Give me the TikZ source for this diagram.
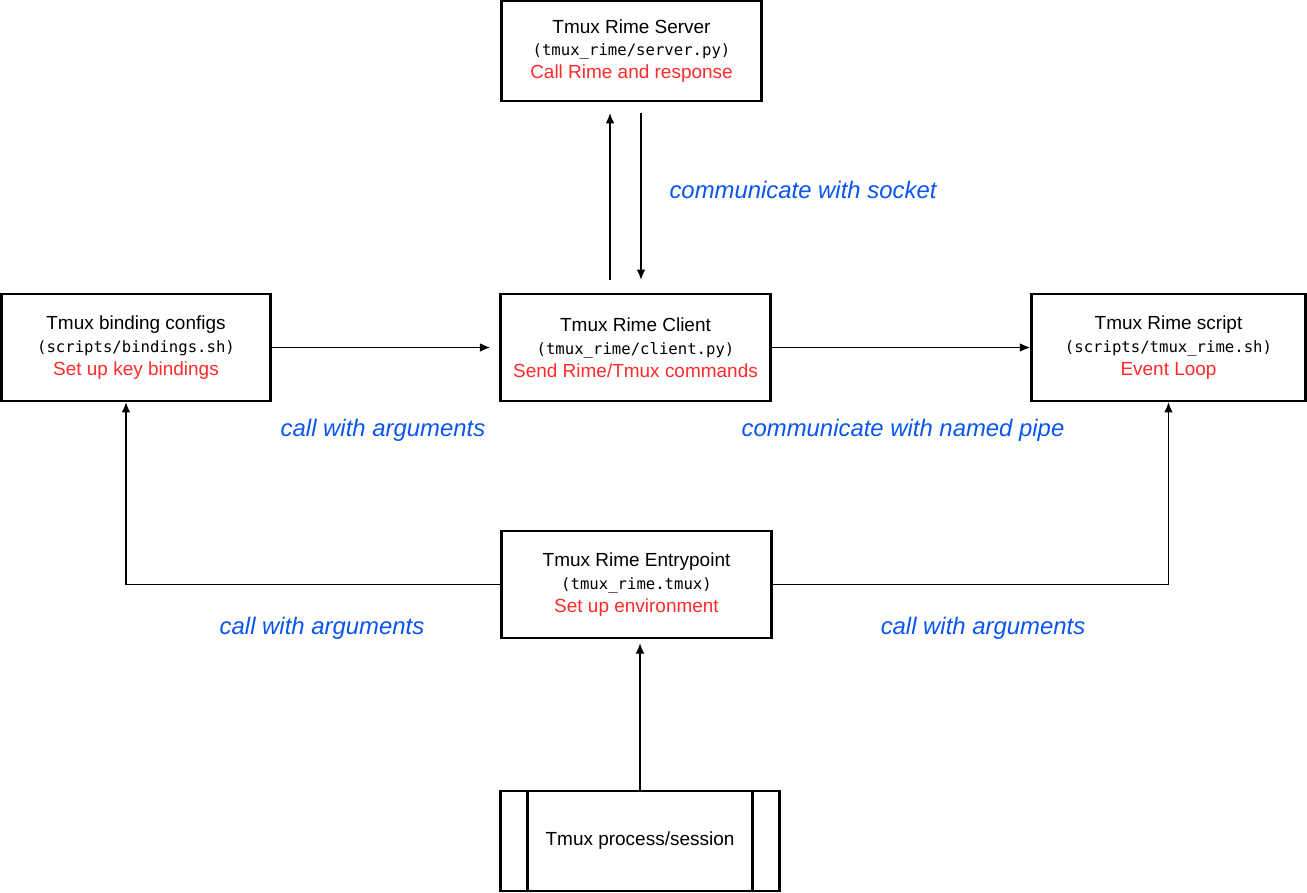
\documentclass[tikz,border=0pt]{standalone}
\usepackage{fontspec}
\setmainfont{Liberation Sans}
\setmonofont{DejaVu Sans Mono}
\usetikzlibrary{arrows.meta,calc}

\definecolor{notered}{HTML}{FF2A2A}
\definecolor{noteblue}{HTML}{0A55F0}

\tikzset{
  box/.style={draw, line width=1.3pt, align=center, inner sep=0pt,
    font=\fontsize{10.8}{13}\selectfont},
  arr/.style={-{Latex[length=6pt,width=5pt]}, line width=1.05pt},
  lbl/.style={text=noteblue, font=\fontsize{13.6}{16}\selectfont\itshape},
}
\newcommand{\fpath}[1]{{\fontsize{8.9}{13}\selectfont\ttfamily #1}}
\newcommand{\duty}[1]{\textcolor{notered}{#1}}

\begin{document}
\begin{tikzpicture}[x=0.02cm, y=-0.02cm]
    \useasboundingbox (0,0) rectangle (1307,892);
    % components
    \node[box, minimum width=261*0.567pt, minimum height=100*0.567pt] (server) at (631.5,51)
      {Tmux Rime Server\\ \fpath{(tmux\_rime/server.py)}\\ \duty{Call Rime and response}};
    \node[box, minimum width=271*0.567pt, minimum height=107*0.567pt] (client) at (635.5,347.5)
      {Tmux Rime Client\\ \fpath{(tmux\_rime/client.py)}\\ \duty{Send Rime/Tmux commands}};
    \node[box, minimum width=270*0.567pt, minimum height=107*0.567pt] (bind) at (136,347.5)
      {Tmux binding configs\\ \fpath{(scripts/bindings.sh)}\\ \duty{Set up key bindings}};
    \node[box, minimum width=275*0.567pt, minimum height=107*0.567pt] (script) at (1168.5,347.5)
      {Tmux Rime script\\ \fpath{(scripts/tmux\_rime.sh)}\\ \duty{Event Loop}};
    \node[box, minimum width=271*0.567pt, minimum height=107*0.567pt] (entry) at (636.5,584.5)
      {Tmux Rime Entrypoint\\ \fpath{(tmux\_rime.tmux)}\\ \duty{Set up environment}};
    \node[box, minimum width=280*0.567pt, minimum height=100*0.567pt] (proc) at (640,841)
      {Tmux process/session};
    \draw[line width=1.3pt] ($(proc.north west)+(28,0)$) -- ($(proc.south west)+(28,0)$);
    \draw[line width=1.3pt] ($(proc.north east)+(-28,0)$) -- ($(proc.south east)+(-28,0)$);

    % connectors
    \coordinate (upx) at (610,0);
    \coordinate (dnx) at (641,0);
    \coordinate (lx) at (126,0);
    \draw[arr, shorten <=7.4pt, shorten >=6.2pt] (client.north -| upx) -- (server.south -| upx);
    \draw[arr, shorten <=6.2pt, shorten >=7.4pt] (server.south -| dnx) -- (client.north -| dnx);
    \draw[arr, shorten >=5.1pt] (bind.east) -- (client.west);
    \draw[arr] (client.east) -- (script.west);
    \draw[arr] (entry.west) -| (bind.south -| lx);
    \draw[arr] (entry.east) -| (script.south);
    \draw[arr, shorten >=2.3pt] (proc.north) -- (proc.north |- entry.south);

    % labels
    \node[lbl] (sock) at (803,190) {communicate with socket};
    \node[lbl] (cargs1) at (383,430) {call with arguments};
    \node[lbl] (pipe) at (903,430) {communicate with named pipe};
    \node[lbl] (cargs2) at (322,628) {call with arguments};
    \node[lbl] (cargs3) at (983,628) {call with arguments};
  \end{tikzpicture}
\end{document}
